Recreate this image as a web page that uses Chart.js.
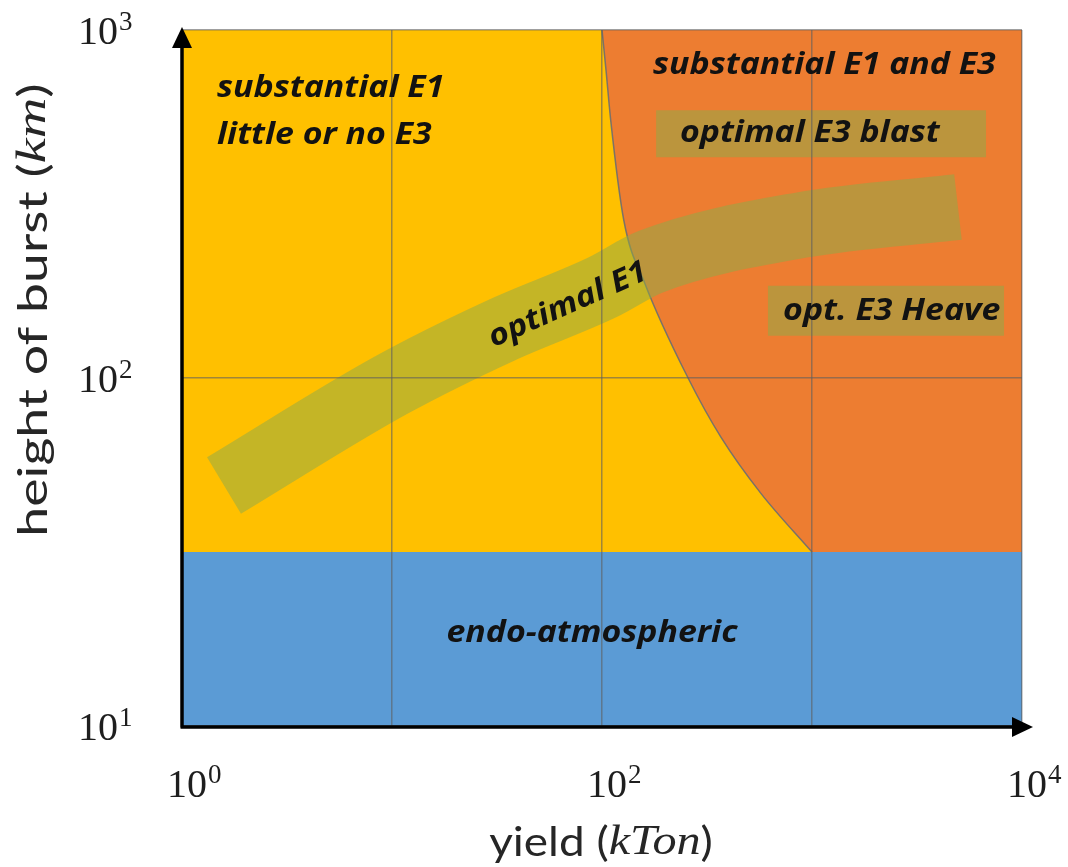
<!DOCTYPE html>
<html>
<head>
<meta charset="utf-8">
<script src="https://cdn.jsdelivr.net/npm/chart.js@4/dist/chart.umd.min.js"></script>
<style>
  html, body { margin: 0; padding: 0; background: #ffffff; }
  canvas { display: block; }
</style>
</head>
<body>
<canvas id="hob" width="1068" height="867"></canvas>
<script>
// ---- Axis extents and decade ticks ----
const yieldRange  = [1, 10000];          // kTon
const heightRange = [10, 1000];          // km
const xGridValues = [1, 10, 100, 1000, 10000];
const yGridValues = [10, 100, 1000];
const xTickExponents = [0, 2, 4];        // labelled as 10^n
const yTickExponents = [1, 2, 3];

// ---- Regions ----
// Top of the endo-atmospheric layer (km)
const endoTop = 31.6;

// Lower/left boundary of the "substantial E1 and E3" region
const e3BoundaryYield  = [100, 104.5, 110, 127, 160, 257, 369, 571, 1000];
const e3BoundaryHeight = [1000, 767, 551, 284, 187, 100, 67.5, 46.6, 31.6];

// Centre line of the optimal E1 band
const e1BandYield  = [1.585, 10, 33, 100, 171, 887, 4955];
const e1BandHeight = [49.1, 95.7, 137, 182, 216, 275, 310];

// Optimal E3 bands: yield span (kTon) at a given height (km)
const e3BlastYield  = [181, 6740];
const e3BlastHeight = 503;
const e3HeaveYield  = [617, 8210];
const e3HeaveHeight = 156;

// ---- Colours ----
const YELLOW = '#FFC000';
const ORANGE = '#ED7D31';
const BLUE   = '#5B9BD5';
const BAND   = 'rgba(141,171,73,0.52)';
const INK    = '#121212';

const pts = (xs, ys) => xs.map((x, i) => ({ x, y: ys[i] }));

const base = { showLine: true, pointRadius: 0, pointHoverRadius: 0, borderWidth: 0, tension: 0 };

const datasets = [
  // exo-atmospheric background (yellow), from the top edge downward
  { ...base, order: 9, data: pts(yieldRange, [heightRange[1], heightRange[1]]),
    fill: 'start', backgroundColor: YELLOW, borderColor: 'transparent' },
  // endo-atmospheric layer
  { ...base, order: 8, data: pts(yieldRange, [endoTop, endoTop]),
    fill: 'start', backgroundColor: BLUE, borderColor: 'transparent' },
  // substantial E1 and E3: curved part
  { ...base, order: 7, data: pts(e3BoundaryYield, e3BoundaryHeight),
    fill: 'end', backgroundColor: ORANGE, borderColor: 'rgba(110,110,110,0.9)', borderWidth: 1.5,
    cubicInterpolationMode: 'monotone' },
  // substantial E1 and E3: rectangular part
  { ...base, order: 7.5, data: pts([e3BoundaryYield[e3BoundaryYield.length - 1], yieldRange[1]], [endoTop, endoTop]),
    fill: 'end', backgroundColor: ORANGE, borderColor: 'transparent' },
  // optimal E1 band
  { ...base, order: 5, data: pts(e1BandYield, e1BandHeight), fill: false,
    borderColor: BAND, borderWidth: 66, borderCapStyle: 'butt', borderJoinStyle: 'round',
    cubicInterpolationMode: 'monotone' },
  // optimal E3 blast band
  { ...base, order: 4, data: pts(e3BlastYield, [e3BlastHeight, e3BlastHeight]), fill: false,
    borderColor: BAND, borderWidth: 47, borderCapStyle: 'butt' },
  // optimal E3 heave band
  { ...base, order: 4, data: pts(e3HeaveYield, [e3HeaveHeight, e3HeaveHeight]), fill: false,
    borderColor: BAND, borderWidth: 50, borderCapStyle: 'butt' }
];

// Region captions, anchored in data coordinates
const captions = [
  { text: 'substantial E1',        x: 1.468, y: 681,  align: 'left' },
  { text: 'little or no E3',       x: 1.468, y: 499,  align: 'left' },
  { text: 'substantial E1 and E3', x: 175,   y: 792,  align: 'left' },
  { text: 'optimal E3 blast',      x: 235,   y: 506,  align: 'left' },
  { text: 'opt. E3 Heave',         x: 728,   y: 155,  align: 'left' },
  { text: 'endo-atmospheric',      x: 89.6,  y: 18.5, align: 'center' },
  { text: 'optimal E1',            x: 68.9,  y: 162,  align: 'center', angle: -24 }
];

const SANS  = 'Lato, "Open Sans", sans-serif';
const BOLDSANS = '"Open Sans", Lato, sans-serif';
const SERIF = '"Liberation Serif", "DejaVu Serif", serif';
const CAPTION_STRETCH = 1.13;

// Draws "10" with a raised exponent; (x, y) is where the "10" is anchored
function drawPower(ctx, x, y, exp, align) {
  ctx.font = '40px ' + SERIF;
  const wBase = ctx.measureText('10').width;
  let left;
  if (align === 'center') left = x - wBase / 2;
  else left = x - wBase; // right-aligned base
  ctx.textAlign = 'left';
  ctx.textBaseline = 'alphabetic';
  ctx.fillText('10', left, y);
  ctx.font = '27px ' + SERIF;
  ctx.fillText(String(exp), left + wBase + 1, y - 14);
}

// Mixed-font title: [text, font] pieces, drawn centred at (cx, cy)
function drawPieces(ctx, pieces, cx, cy, angle, stretch) {
  ctx.save();
  ctx.translate(cx, cy);
  ctx.rotate(angle);
  ctx.scale(stretch, 1);
  let total = 0;
  pieces.forEach(p => { ctx.font = p[1]; total += ctx.measureText(p[0]).width; });
  let pos = -total / 2;
  ctx.textAlign = 'left';
  ctx.textBaseline = 'middle';
  pieces.forEach(p => { ctx.font = p[1]; ctx.fillText(p[0], pos, 0); pos += ctx.measureText(p[0]).width; });
  ctx.restore();
}

const decorations = {
  id: 'decorations',
  afterDraw(chart) {
    const { ctx, chartArea: a, scales: { x: sx, y: sy } } = chart;
    ctx.save();

    // captions
    ctx.fillStyle = INK;
    ctx.font = 'italic bold 30px ' + BOLDSANS;
    captions.forEach(c => {
      const px = sx.getPixelForValue(c.x), py = sy.getPixelForValue(c.y);
      ctx.save();
      ctx.translate(px, py);
      if (c.angle) ctx.rotate(c.angle * Math.PI / 180);
      ctx.scale(CAPTION_STRETCH, 1);
      ctx.textAlign = c.align;
      ctx.textBaseline = 'middle';
      ctx.fillText(c.text, 0, 0);
      ctx.restore();
    });

    // axis lines with arrow heads
    ctx.strokeStyle = '#000';
    ctx.fillStyle = '#000';
    ctx.lineWidth = 3.5;
    ctx.beginPath();
    ctx.moveTo(a.left, a.bottom + 1.5);
    ctx.lineTo(a.left, a.top + 16);
    ctx.moveTo(a.left - 1.5, a.bottom + 1);
    ctx.lineTo(a.right - 8, a.bottom + 1);
    ctx.stroke();
    ctx.beginPath();
    ctx.moveTo(a.left, a.top - 3);
    ctx.lineTo(a.left - 10, a.top + 18);
    ctx.lineTo(a.left + 10, a.top + 18);
    ctx.closePath();
    ctx.fill();
    ctx.beginPath();
    ctx.moveTo(a.right + 11, a.bottom + 1);
    ctx.lineTo(a.right - 10, a.bottom - 9);
    ctx.lineTo(a.right - 10, a.bottom + 11);
    ctx.closePath();
    ctx.fill();

    // tick labels
    ctx.fillStyle = '#1e1e1e';
    xTickExponents.forEach(e => {
      const px = sx.getPixelForValue(Math.pow(10, e));
      drawPower(ctx, px + 5, a.bottom + 71, e, 'center');
    });
    yTickExponents.forEach(e => {
      const py = sy.getPixelForValue(Math.pow(10, e));
      drawPower(ctx, 118, py + 14, e, 'right');
    });

    // axis titles
    ctx.fillStyle = '#262626';
    drawPieces(ctx, [['yield (', '41px ' + SANS], ['kTon', 'italic 43px ' + SERIF], [')', '41px ' + SANS]],
      601, 843, 0, 1.12);
    drawPieces(ctx, [['height of burst (', '40px ' + SANS], ['km', 'italic 42px ' + SERIF], [')', '40px ' + SANS]],
      34, 310, -Math.PI / 2, 1.34);

    ctx.restore();
  }
};

const gridStyle = { color: 'rgba(95,95,95,0.6)', lineWidth: 1.5, drawTicks: false, z: 1 };

new Chart(document.getElementById('hob'), {
  type: 'scatter',
  data: { datasets },
  options: {
    responsive: false,
    animation: false,
    events: [],
    layout: { autoPadding: false, padding: { left: 182, top: 30, right: 46, bottom: 141 } },
    plugins: { legend: { display: false }, tooltip: { enabled: false } },
    scales: {
      x: {
        type: 'logarithmic', min: yieldRange[0], max: yieldRange[1],
        afterBuildTicks: s => { s.ticks = xGridValues.map(v => ({ value: v })); },
        ticks: { display: false },
        grid: gridStyle,
        border: { display: false }
      },
      y: {
        type: 'logarithmic', min: heightRange[0], max: heightRange[1],
        afterBuildTicks: s => { s.ticks = yGridValues.map(v => ({ value: v })); },
        ticks: { display: false },
        grid: gridStyle,
        border: { display: false }
      }
    }
  },
  plugins: [decorations]
});
</script>
</body>
</html>
